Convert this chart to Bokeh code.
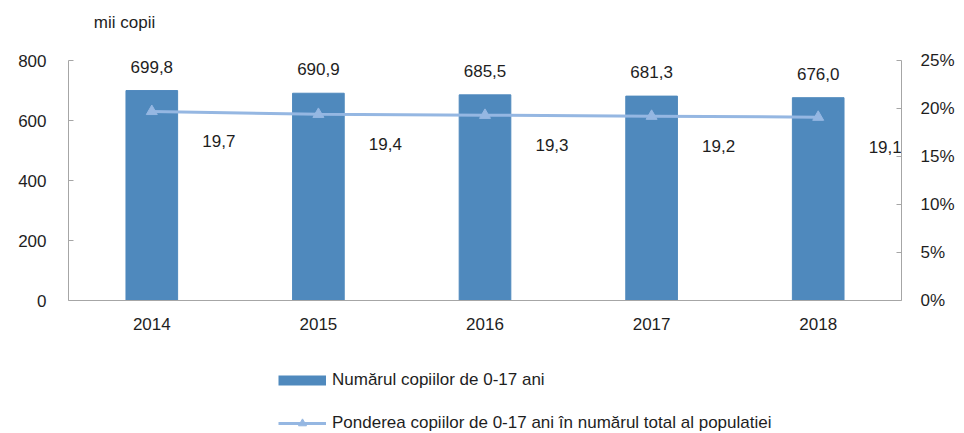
from bokeh.plotting import figure
from bokeh.layouts import column
from bokeh.models import (ColumnDataSource, Range1d, LinearAxis, FixedTicker,
                          PrintfTickFormatter, Legend, LegendItem, Label)
from bokeh.embed import file_html
from bokeh.resources import INLINE
from bokeh.core.properties import value

years = ["2014", "2015", "2016", "2017", "2018"]
children = [699.8, 690.9, 685.5, 681.3, 676.0]
share = [19.7, 19.4, 19.3, 19.2, 19.1]
left_ticks = [0, 200, 400, 600, 800]
right_ticks = [0, 5, 10, 15, 20, 25]
bar_name = "Numărul copiilor de 0-17 ani"
line_name = "Ponderea copiilor de 0-17 ani în numărul total al populatiei"
unit_label = "mii copii"

FONT = "Liberation Sans"
FS = "17px"
BAR = "#4F89BD"
LINE = "#95B7E2"
AXIS = "#A6A6A6"
TXT = "#1E1E1E"

def fmt(v):
    return f"{v:.1f}".replace(".", ",")

src = ColumnDataSource(dict(year=years, n=children, pct=share,
                            n_lab=[fmt(v) for v in children],
                            pct_lab=[fmt(v) for v in share]))

def strip(h):
    f = figure(width=964, height=h, x_range=years, y_range=Range1d(5000, 5001),
               output_backend="svg", toolbar_location=None, min_border=0,
               x_axis_type=None, y_axis_type=None)
    f.xgrid.grid_line_color = None
    f.ygrid.grid_line_color = None
    f.outline_line_color = None
    f.border_fill_color = "white"
    return f

# top strip with the unit label
t = strip(40)
t.add_layout(Label(x=56, y=18, x_units="screen", y_units="screen", text=unit_label,
                   text_align="center", text_baseline="middle", text_font=FONT,
                   text_font_size=FS, text_color=TXT))

p = figure(x_range=years, y_range=Range1d(0, 800), width=964, height=305,
           output_backend="svg", toolbar_location=None,
           min_border_left=68, min_border_right=63, min_border_top=20,
           min_border_bottom=45)
p.extra_y_ranges = {"pct": Range1d(0, 25)}
p.xgrid.grid_line_color = None
p.ygrid.grid_line_color = None
p.outline_line_color = None
p.background_fill_color = "white"
p.border_fill_color = "white"

# left axis
ya = p.yaxis[0]
ya.ticker = FixedTicker(ticks=left_ticks)
ya.major_tick_in = 5
ya.major_tick_out = 0
ya.minor_tick_line_color = None
ya.axis_line_color = AXIS
ya.major_tick_line_color = AXIS
ya.major_label_standoff = 22
ya.major_label_text_font = FONT
ya.major_label_text_font_size = FS
ya.major_label_text_color = TXT

# right axis
ra = LinearAxis(y_range_name="pct", ticker=FixedTicker(ticks=right_ticks),
                formatter=PrintfTickFormatter(format="%d%%"))
ra.major_tick_in = 5
ra.major_tick_out = 0
ra.minor_tick_line_color = None
ra.axis_line_color = AXIS
ra.major_tick_line_color = AXIS
ra.major_label_standoff = 19
ra.major_label_text_font = FONT
ra.major_label_text_font_size = FS
ra.major_label_text_color = TXT
p.add_layout(ra, "right")

# x axis
xa = p.xaxis[0]
xa.major_tick_line_color = None
xa.minor_tick_line_color = None
xa.axis_line_color = AXIS
xa.major_label_standoff = 11
xa.major_label_text_font = FONT
xa.major_label_text_font_size = FS
xa.major_label_text_color = TXT

p.vbar(x="year", top="n", width=0.31, source=src, fill_color=BAR, line_color=BAR)
p.line(x="year", y="pct", source=src, y_range_name="pct", line_width=3, line_color=LINE)
p.scatter(x="year", y="pct", source=src, y_range_name="pct", marker="triangle",
          size=11, fill_color=LINE, line_color=LINE)

p.text(x="year", y="n", text="n_lab", source=src, y_offset=-24,
       text_align="center", text_baseline="middle", text_font=value(FONT),
       text_font_size=FS, text_color=TXT)
p.text(x="year", y="pct", text="pct_lab", source=src, y_range_name="pct",
       x_offset=67, y_offset=30, text_align="center", text_baseline="middle",
       text_font=value(FONT), text_font_size=FS, text_color=TXT)

# legend strip below the chart: its renderers use the same data but lie
# outside this strip's (empty) view, so only the legend is seen
q = strip(88)
lb = q.line(x="year", y="n", source=src, line_width=10, line_color=BAR, line_cap="butt")
ll = q.line(x="year", y="pct", source=src, line_width=3, line_color=LINE)
lm = q.scatter(x="year", y="pct", source=src, marker="triangle", size=11,
               fill_color=LINE, line_color=LINE)

legend = Legend(items=[LegendItem(label=bar_name, renderers=[lb]),
                       LegendItem(label=line_name, renderers=[ll, lm])],
                location=(210, 0), orientation="vertical",
                glyph_width=48, glyph_height=20, label_height=20, spacing=23,
                padding=0, margin=0, border_line_color=None,
                background_fill_alpha=0, label_standoff=6,
                label_text_font=FONT, label_text_font_size=FS,
                label_text_color=TXT)
q.add_layout(legend, "center")

open("out.html", "w").write(file_html(column(t, p, q), INLINE))
